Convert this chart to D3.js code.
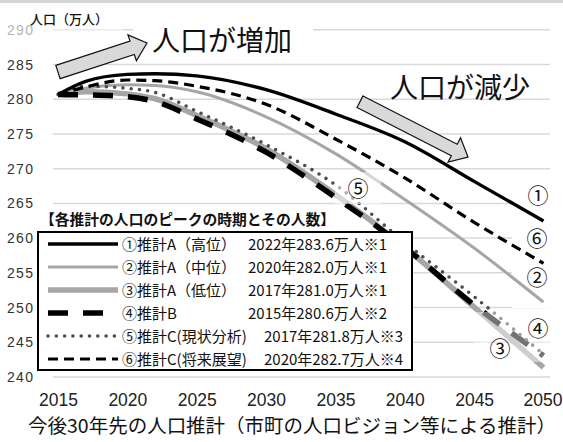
<!DOCTYPE html>
<html><head><meta charset="utf-8">
<script src="https://cdn.jsdelivr.net/npm/d3@7"></script>
<style>body{margin:0;background:#fff;} svg{display:block;}</style>
</head><body><svg id="c" width="563" height="442"></svg>
<script>
// ---- data ----
const years   = [2015, 2017, 2020, 2022, 2025, 2030, 2035, 2040, 2045, 2050];
const estAHigh = [280.6, 282.5, 283.5, 283.6, 283.3, 281.3, 277.8, 273.8, 268.1, 262.4]; // ①
const estAMid  = [280.6, 281.5, 282.0, 281.9, 281.0, 277.4, 272.1, 265.5, 258.5, 250.7]; // ②
const estALow  = [280.6, 281.0, 280.7, 280.0, 277.6, 272.8, 266.2, 258.6, 250.0, 241.3]; // ③
const estB     = [280.6, 280.55, 280.3, 279.6, 277.1, 272.3, 265.8, 258.6, 250.3, 243.0]; // ④
const estCNow  = [280.6, 281.8, 281.5, 280.9, 278.2, 273.4, 267.6, 259.3, 251.5, 243.2]; // ⑤
const estCFut  = [280.6, 281.7, 282.7, 282.6, 281.8, 279.2, 274.2, 268.6, 262.2, 256.3]; // ⑥
const xTicks = [2015, 2020, 2025, 2030, 2035, 2040, 2045, 2050];
const yTicks = [240, 245, 250, 255, 260, 265, 270, 275, 280, 285, 290];
const seriesNames = ["①推計A（高位）", "②推計A（中位）", "③推計A（低位）", "④推計B", "⑤推計C(現状分析)", "⑥推計C(将来展望)"];
const peakTexts   = ["2022年283.6万人※1", "2020年282.0万人※1", "2017年281.0万人※1", "2015年280.6万人※2", "2017年281.8万人※3", "2020年282.7万人※4"];
const endMarks    = ["①", "②", "③", "④", "⑤", "⑥"];

const allSeries = [estAHigh, estAMid, estALow, estB, estCNow, estCFut];
const styles = [
  {stroke:"#000", w:3.3, dash:null, cap:"butt"},
  {stroke:"#a6a6a6", w:3, dash:null, cap:"butt"},
  {stroke:"#a6a6a6", w:5.5, dash:null, cap:"butt"},
  {stroke:"#000", w:5.5, dash:"20,15", cap:"butt"},
  {stroke:"#4d4d4d", w:3.6, dash:"0,8.3", cap:"round"},
  {stroke:"#000", w:3.2, dash:"10,6", cap:"butt"}
];

const svg = d3.select("#c");
const JP = "'Noto Sans CJK JP','Noto Sans',sans-serif";
const LAT = "'Liberation Sans',Arial,sans-serif";

svg.append("rect").attr("x",0).attr("y",0).attr("width",563).attr("height",442).attr("fill","#fff");
svg.append("rect").attr("x",0).attr("y",0).attr("width",563).attr("height",3).attr("fill","#d4d4d4");

const x = d3.scaleLinear().domain([2015, 2050]).range([58, 543.5]);
const y = d3.scaleLinear().domain([240, 290]).range([376.5, 29.3]);

// y axis with gridlines
const yAxis = svg.append("g").attr("transform","translate(53,0)")
  .call(d3.axisLeft(y).tickValues(yTicks).tickSizeInner(-497).tickSizeOuter(0).tickPadding(18));
yAxis.select(".domain").remove();
yAxis.selectAll(".tick line").attr("stroke","#d9d9d9").attr("stroke-width",1.5);
yAxis.selectAll(".tick text").attr("x",-46).attr("text-anchor","start").attr("dy",null).attr("y",5)
  .attr("font-family",LAT).attr("font-size",14).attr("letter-spacing","1.3px")
  .attr("fill", d => d===290 ? "#777" : "#333");

// x axis labels
const xAxis = svg.append("g").attr("transform","translate(0,376.5)")
  .call(d3.axisBottom(x).tickValues(xTicks).tickSize(0).tickFormat(d3.format("d")));
xAxis.select(".domain").remove();
xAxis.selectAll(".tick text").attr("y",29).attr("dy",null)
  .attr("font-family",LAT).attr("font-size",17.5).attr("fill","#222")
  .attr("text-anchor", d => d===2050 ? "end" : "middle")
  .attr("x", d => d===2050 ? 562 - x(2050) : 0);

// white boxes behind annotations (under lines)
svg.append("rect").attr("x",133).attr("y",20).attr("width",180).attr("height",40).attr("fill","#fff");
svg.append("rect").attr("x",512).attr("y",180).attr("width",48).attr("height",128).attr("fill","#fff");

// lines
const line = d3.line().x((d,i)=>x(years[i])).y(d=>y(d)).curve(d3.curveMonotoneX);
const order = [2,1,3,4,5,0];
order.forEach(k => {
  const s = styles[k];
  svg.append("path").datum(allSeries[k]).attr("d", line)
    .attr("fill","none").attr("stroke",s.stroke).attr("stroke-width",s.w)
    .attr("stroke-dasharray",s.dash).attr("stroke-linecap",s.cap).attr("stroke-linejoin","round");
});

// semi-transparent label boxes over lines
svg.append("rect").attr("x",335).attr("y",172).attr("width",46).attr("height",32).attr("fill","#fff").attr("opacity",0.55);
svg.append("rect").attr("x",474).attr("y",312).attr("width",80).attr("height",50).attr("fill","#fff").attr("opacity",0.45);

// end labels
const markPos = [[538,195],[537,277],[500,348],[538,328],[358,188],[537,238]];
endMarks.forEach((m,i)=>{
  svg.append("text").attr("x",markPos[i][0]).attr("y",markPos[i][1]).attr("dy","0.36em")
    .attr("text-anchor","middle").attr("font-family",JP).attr("font-size",21).attr("fill","#111").text(m);
});

// arrows
function arrow(tail, tip, sh, hh, hl){
  const dx = tip[0]-tail[0], dy = tip[1]-tail[1];
  const L = Math.hypot(dx,dy), ang = Math.atan2(dy,dx)*180/Math.PI;
  const pts = [[0,-sh],[L-hl,-sh],[L-hl,-hh],[L,0],[L-hl,hh],[L-hl,sh],[0,sh]];
  svg.append("polygon").attr("points", pts.map(p=>p.join(",")).join(" "))
    .attr("transform",`translate(${tail[0]},${tail[1]}) rotate(${ang})`)
    .attr("fill","#d9d9d9").attr("stroke","#111").attr("stroke-width",1.2).attr("stroke-linejoin","miter");
}
arrow([58,72],[147,43],7,13.6,15.6);
arrow([360,101.7],[468,157],6.5,13.7,15.4);

// big annotation texts
svg.append("text").attr("x",152).attr("y",51).attr("font-family",JP).attr("font-size",28).attr("fill","#111").text("人口が増加");
svg.append("text").attr("x",390).attr("y",98).attr("font-family",JP).attr("font-size",28).attr("fill","#111").text("人口が減少");

// y title box
svg.append("rect").attr("x",0).attr("y",8).attr("width",123).attr("height",32).attr("fill","#fff").attr("opacity",0.45);
svg.append("text").attr("x",30).attr("y",24).attr("font-family",JP).attr("font-size",13).attr("font-weight",500).attr("fill","#111").text("人口（万人）");

// legend
svg.append("text").attr("x",40).attr("y",225).attr("font-family",JP).attr("font-size",14.5).attr("font-weight",700)
  .attr("fill","#111").attr("textLength",295).attr("lengthAdjust","spacingAndGlyphs").text("【各推計の人口のピークの時期とその人数】");
svg.append("rect").attr("x",38).attr("y",232).attr("width",374).attr("height",138).attr("fill","#fff").attr("stroke","#000").attr("stroke-width",2);
seriesNames.forEach((nm,i)=>{
  const ry = 244 + i*23;
  const s = styles[i];
  svg.append("line").attr("x1",48).attr("x2",118).attr("y1",ry).attr("y2",ry)
    .attr("stroke",s.stroke).attr("stroke-width",s.w).attr("stroke-dasharray",s.dash).attr("stroke-linecap",s.cap);
  svg.append("text").attr("x",122).attr("y",ry+5.5).attr("font-family",JP).attr("font-size",15).attr("fill","#111").text(nm);
  const vx = i<4 ? 248 : 264;
  svg.append("text").attr("x",vx).attr("y",ry+5.5).attr("font-family",JP).attr("font-size",15).attr("fill","#111")
    .attr("textLength",139).attr("lengthAdjust","spacingAndGlyphs").text(peakTexts[i]);
});

// bottom title
svg.append("text").attr("x",28).attr("y",433).attr("font-family",JP).attr("font-size",19).attr("fill","#111")
  .attr("textLength",528).attr("lengthAdjust","spacingAndGlyphs").text("今後30年先の人口推計（市町の人口ビジョン等による推計）");
</script></body></html>
